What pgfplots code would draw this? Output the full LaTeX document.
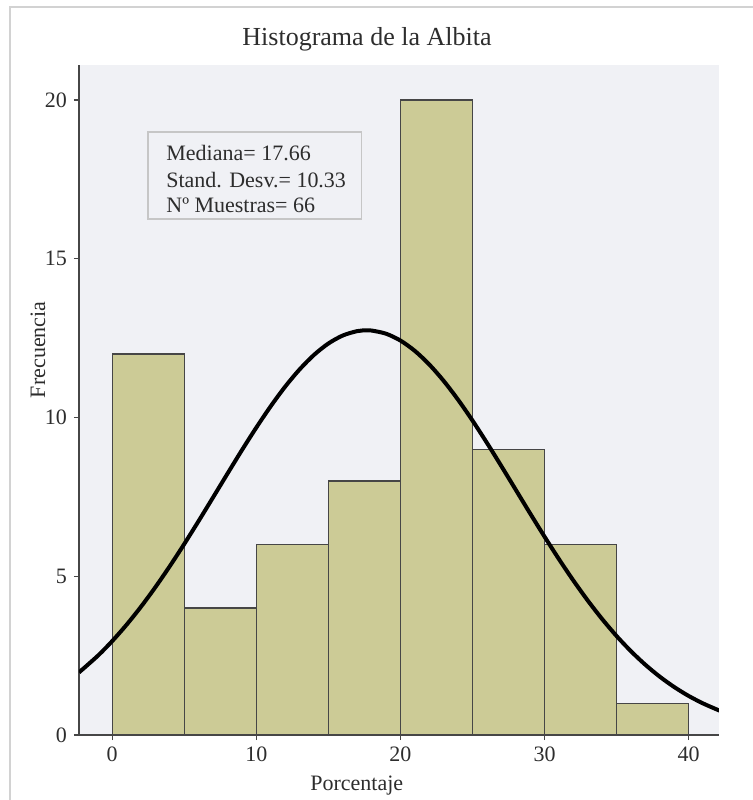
\documentclass[border=0pt]{standalone}
\usepackage{pgfplots}
\pgfplotsset{compat=1.18}
\usepackage{fontspec}
\setmainfont{Liberation Serif}
\definecolor{bgc}{RGB}{240,241,245}
\definecolor{barc}{RGB}{204,203,150}
\definecolor{edgec}{RGB}{70,70,70}
\definecolor{txtc}{RGB}{45,45,45}
\begin{document}
\begin{tikzpicture}
\useasboundingbox (-39.5pt,-32.5pt) rectangle (337pt,367.5pt);
\draw[gray!35, line width=0.9pt] (-34.5pt,-32.5pt) -- (-34.5pt,364pt) -- (337pt,364pt);
\begin{axis}[
  scale only axis, width=320pt, height=335pt,
  xmin=-2.3, xmax=42.1, ymin=0, ymax=21.1,
  axis x line=bottom, axis y line=left,
  axis line style={-, draw=edgec, line width=0.8pt},
  axis background/.style={fill=bgc},
  xtick={0,10,20,30,40}, ytick={0,5,10,15,20},
  tick align=outside, major tick length=2.5pt,
  tick style={draw=edgec, line width=0.6pt},
  ticklabel style={font=\fontsize{11}{13}\selectfont, text=txtc},
  /pgf/number format/assume math mode=true,
  xlabel={Porcentaje}, ylabel={Frecuencia},
  xlabel style={at={(axis description cs:0.434,-0.075)}, anchor=center, font=\fontsize{11}{13}\selectfont, text=txtc},
  ylabel style={at={(axis description cs:-0.064,0.575)}, anchor=center, font=\fontsize{11}{13}\selectfont, text=txtc},
  title={Histograma de la Albita},
  title style={at={(axis description cs:0.45,1.020)}, anchor=center, font=\fontsize{13}{15}\selectfont, text=txtc},
]
\addplot[ybar interval, fill=barc, draw=edgec, line width=0.6pt]
  coordinates {(0,12)(5,4)(10,6)(15,8)(20,20)(25,9)(30,6)(35,1)(40,1)};
\addplot[black, line width=2pt, smooth] coordinates {
(-2.3,1.971)(-1,2.493)(0,2.956)(1,3.472)(2,4.039)(3,4.656)(4,5.317)(5,6.014)
(6,6.740)(7,7.483)(8,8.230)(9,8.969)(10,9.681)(11,10.353)(12,10.969)(13,11.511)
(14,11.969)(15,12.329)(16,12.581)(17,12.719)(17.66,12.745)(18,12.738)(19,12.638)
(20,12.422)(21,12.096)(22,11.668)(23,11.151)(24,10.557)(25,9.902)(26,9.200)
(27,8.469)(28,7.723)(29,6.976)(30,6.244)(31,5.536)(32,4.863)(33,4.232)(34,3.648)
(35,3.115)(36,2.635)(37,2.209)(38,1.834)(39,1.509)(40,1.229)(41,0.993)(42,0.794)(42.1,0.776)};
\draw[gray!45, line width=0.6pt] (axis description cs:0.1078,0.770) rectangle (axis description cs:0.442,0.9);
\node[anchor=west, inner sep=0pt, font=\fontsize{11}{13}\selectfont, text=txtc] at (axis description cs:0.1359,0.8687) {Mediana= 17.66};
\node[anchor=west, inner sep=0pt, font=\fontsize{11}{13}\selectfont, text=txtc] at (axis description cs:0.1359,0.8284) {Stand. Desv.= 10.33};
\node[anchor=west, inner sep=0pt, font=\fontsize{11}{13}\selectfont, text=txtc] at (axis description cs:0.1359,0.7910) {Nº Muestras= 66};
\end{axis}
\end{tikzpicture}
\end{document}
